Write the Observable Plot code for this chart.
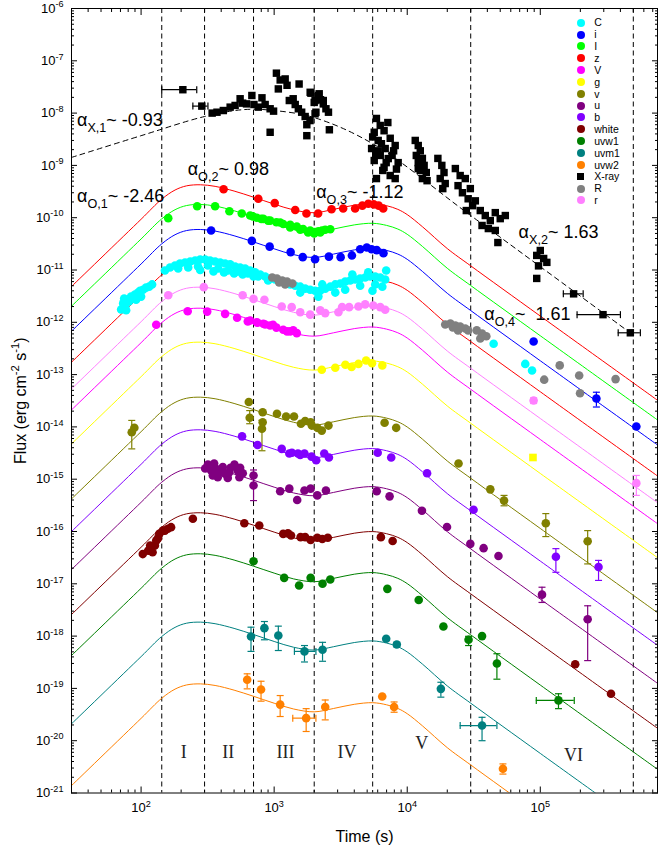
<!DOCTYPE html>
<html><head><meta charset="utf-8">
<script src="https://cdn.jsdelivr.net/npm/d3@7"></script>
<script src="https://cdn.jsdelivr.net/npm/@observablehq/plot@0.6"></script>
<style>
body{margin:0;background:#fff;font-family:"Liberation Sans",Arial,sans-serif;}
#wrap{position:relative;width:658px;height:850px;}
#legend{position:absolute;left:576.7px;top:16.8px;font-size:10.5px;color:#000;line-height:1;}
.row{height:11.85px;display:flex;align-items:center;}
.sym{width:8px;height:8px;border-radius:50%;margin-right:9.6px;flex:none;}
.sq{width:7px;height:7px;margin-left:0.5px;margin-right:10.1px;flex:none;}
</style></head><body><div id="wrap"></div>
<script>
// ---------------- data ----------------
const xMajor = [1e2, 1e3, 1e4, 1e5];
const yMajor = [1e-21,1e-20,1e-19,1e-18,1e-17,1e-16,1e-15,1e-14,1e-13,1e-12,1e-11,1e-10,1e-9,1e-8,1e-7,1e-6];
const boundaries = [143, 300, 700, 2000, 5500, 30000, 500000];
const romanLabels = ["I","II","III","IV","V","VI"];
const legendNames = ["C","i","I","z","V","g","v","u","b","white","uvw1","uvm1","uvw2","X-ray","R","r"];
const legendColors = ["#00ffff","#0000ff","#00ff00","#ff0000","#ff00ff","#ffff00","#808000","#800080","#8000ff","#800000","#008000","#008080","#ff8000","#000000","#808080","#ff80ff"];
const annotText = ["α_{X,1}~ -0.93","α_{O,1}~ -2.46","α_{O,2}~ 0.98","α_{O,3}~ -1.12","α_{X,2}~ 1.63","α_{O,4}~\u00a0 1.61"];

// model light-curve template (time, relative flux to first peak)
const modelTime  = [30, 100, 143, 180, 220, 280, 360, 500, 700, 1000, 1400, 2000, 2800, 4000, 5500, 7000, 8500, 10000, 13000, 20000, 30000, 100000, 760000];
const modelShape = [0.01135, 0.219, 0.531, 0.794, 0.955, 1, 0.933, 0.759, 0.579, 0.427, 0.331, 0.292, 0.339, 0.407, 0.437, 0.398, 0.339, 0.269, 0.158, 0.0603, 0.0282, 0.00309, 7.59e-5];
const modelBands  = ["z","I","i","C","r","V","g","v","b","u","white","uvw1","uvm1","uvw2"];
const modelColors = ["#ff0000","#00ff00","#0000ff","#ff0000","#ff80ff","#ff00ff","#ffff00","#808000","#8000ff","#800080","#800000","#008000","#008080","#ff8000"];
const modelPeak   = [4.26e-10, 1.79e-10, 5.95e-11, 1.52e-11, 4.69e-12, 1.86e-12, 4.17e-13, 3.70e-14, 8.8e-15, 1.65e-15, 2.28e-16, 3.75e-17, 1.85e-18, 1.22e-19];

const xrayModelTime = [30, 100, 300, 600, 1000, 2000, 5500, 30000, 470000];
const xrayModelFlux = [1.42e-9, 3.7e-9, 8.6e-9, 1.17e-8, 1.12e-8, 8.2e-9, 2.6e-9, 1.1e-10, 6.4e-13];

// points: [t, F, Flo, Fhi, tlo, thi]
const pts_X = [[206,2.8e-8,null,null,143,262],[286,1.36e-8,null,null,245,318],
 [342,1.0e-8],[372,1.04e-8],[415,1.12e-8],[467,1.3e-8],[509,1.4e-8],[555,1.88e-8],[580,1.55e-8],[620,1.5e-8],[680,2.17e-8],[705,1.46e-8],[760,1.3e-8],[810,1.96e-8],[856,1.46e-8],[933,1.21e-8],[990,1.09e-8],[933,4.3e-9],[1040,5.8e-8],[1075,2.9e-8],[1110,4.3e-8],[1210,4.5e-8],[1250,3.4e-8],[1300,1.74e-8],[1390,1.88e-8],[1440,1.46e-8],[1540,3.6e-8],[1520,1.21e-8],[1610,1.04e-8],[1710,8.6e-9],[1760,6.0e-9],[1760,3.7e-9],[1860,7.2e-9],[1890,2.4e-8],[2000,1.6e-8],[2060,1.04e-8],[2180,2.34e-8],[2230,1.8e-8],[2340,1.5e-8],[2450,1.21e-8],[2560,1.04e-8],[2600,4.8e-9],[1865,2.5e-8],[2030,1.74e-8],[2150,2.17e-8],[2340,1.74e-8],[2030,9.7e-9],
 [5870,7.9e-9],[6270,5.8e-9],[5650,4.3e-9],[6700,4.6e-9],[6050,3.0e-9],[7450,3.3e-9],[5400,2.1e-9],[6830,2.1e-9],[8120,2.4e-9],[6270,1.55e-9],[7700,1.55e-9],[5650,1.24e-9],[6950,1.13e-9],[8550,1.13e-9],[6550,8.0e-10],[7450,6.4e-10],[5870,5.6e-10],[8120,5.6e-10],[6700,9.2e-10],[6050,1.9e-9],[7150,6.6e-9],[5500,3.5e-9],[6400,2.6e-9],[7900,1.9e-9],[5800,1.6e-9],[7200,1.35e-9],[8300,8.5e-10],
 [11490,3.0e-9],[12100,2.4e-9],[12530,1.9e-9],[11700,1.55e-9],[13000,1.36e-9],[12100,1.13e-9],[13400,1.0e-9],[12530,8.0e-10],[13900,7.3e-10],[13000,5.6e-10],[14100,5.1e-10],[12100,8.7e-10],
 [17000,1.36e-9],[18200,1.0e-9],[18900,7.3e-10],[17700,5.6e-10],[19300,4.5e-10],[18500,3.6e-10],
 [23000,8.7e-10],[25000,6.4e-10],[24100,4.1e-10],[27300,5.6e-10],[26000,3.0e-10],[28700,2.3e-10],[29800,3.6e-10],[31000,1.7e-10],[32500,2.1e-10],[27800,1.37e-10],
 [35400,1.37e-10],[38600,1.1e-10],[42100,8.8e-11],[45900,1.25e-10],[50000,9.6e-11],[40700,6.2e-11],[45900,5.7e-11],[54600,1.1e-10],[36500,7.1e-11],[48000,3.35e-11],
 [94000,1.9e-11],[100000,2.36e-11],[106000,1.66e-11],[112000,1.4e-11],[97000,1.2e-11],[94000,6.9e-12],
 [178000,3.5e-12,null,null,149000,210000],[296000,1.4e-12,null,null,189000,400000],[475000,6.3e-13,null,null,385000,565000]];

const pts_C = [[70.8,1.76e-12],[73.3,2.3e-12],[75.9,2.0e-12],[78.5,2.7e-12],[81.2,2.5e-12],[84.1,3.1e-12],[87,2.85e-12],[90,3.4e-12],[95,3.7e-12],[98.3,4.0e-12],[103.5,4.2e-12],[109,4.6e-12],[115,4.8e-12],[121,5.3e-12],[74.6,2.85e-12],[91.7,2.7e-12],[77.2,1.7e-12],[100,3.1e-12],
 [151,9.8e-12],[165,1.12e-11],[180,1.22e-11],[196,1.33e-11],[214,1.39e-11],[234,1.45e-11],[255,1.52e-11],[278,1.59e-11],[303,1.59e-11],[330,1.52e-11],[360,1.45e-11],[393,1.39e-11],[428,1.33e-11],[467,1.28e-11],[509,1.17e-11],[555,1.12e-11],[605,1.07e-11],[660,9.8e-12],[719,9.0e-12],[785,8.2e-12],[856,7.5e-12],[933,6.9e-12],
 [190,1.07e-11],[226,1.12e-11],[268,1.17e-11],[318,1.22e-11],[380,1.07e-11],[451,9.8e-12],[536,9.4e-12],[636,8.6e-12],[758,7.5e-12],[901,6.3e-12],[278,1.0e-11],[350,9.4e-12],[420,9.0e-12],[500,8.6e-12],[580,8.2e-12],[700,7.5e-12],
 [1018,6.6e-12],[1110,6.0e-12],[1210,5.8e-12],[1320,5.3e-12],[1440,5.0e-12],[1570,4.8e-12],[1710,4.4e-12],[1865,4.2e-12],[2030,4.0e-12],[2220,4.0e-12],[2420,4.4e-12],[2640,4.8e-12],[2880,5.3e-12],[3140,5.5e-12],[3420,6.0e-12],[3730,6.3e-12],[4060,6.6e-12],[4430,6.9e-12],[4830,7.2e-12],[5270,7.5e-12],[5750,7.5e-12],[6270,7.2e-12],[6830,6.6e-12],
 [1570,3.7e-12],[2150,3.1e-12],[2300,5.3e-12],[2880,3.7e-12],[3420,4.2e-12],[3870,8.2e-12],[4430,5.0e-12],[5090,9.0e-12],[5750,5.3e-12],[6500,4.8e-12],[6950,9.8e-12],[5480,4.0e-12],
 [44600,3.9e-13],[77100,1.6e-13],[86700,1.2e-13]];

const pts_z = [[417,3.5e-10],[760,2.3e-10],[1010,1.9e-10],[1440,1.4e-10],[1750,1.2e-10],[2140,1.2e-10],[2700,1.45e-10],[3300,1.5e-10],[4060,1.5e-10],[4600,1.7e-10],[5100,1.85e-10],[5600,1.8e-10],[6100,1.7e-10],[6600,1.5e-10]];

const pts_I = [[160,9.8e-11],[264,1.66e-10],[360,1.66e-10],[461,1.33e-10],[571,1.2e-10],[660,1.1e-10],[692,1.06e-10],[740,1.0e-10],[800,9.5e-11],[830,9.5e-11],[900,8.8e-11],[933,8.8e-11],[1040,8.2e-11],[1110,8.1e-11],[1170,7.6e-11],[1320,7.3e-11],[1480,6.8e-11],[1650,6.1e-11],[1865,5.7e-11],[2030,5.3e-11],[2150,5.5e-11],[2290,5.7e-11],[2420,5.9e-11],[2640,6.0e-11],[1320,6.5e-11],[1570,5.9e-11],[1800,5.2e-11],[2000,5.0e-11],[2220,5.2e-11]];

const pts_i = [[336,5.7e-11],[680,3.6e-11],[925,2.8e-11],[1330,2.2e-11],[1640,1.76e-11],[2030,1.6e-11],[2580,1.8e-11],[3160,1.76e-11],[3840,1.9e-11],[4430,2.5e-11],[4970,2.7e-11],[5400,2.5e-11],[5900,2.4e-11],[6630,2.1e-11],[89100,4.3e-13],[264000,3.5e-14,2.4e-14,4.6e-14],[527000,1.02e-14]];

const pts_r = [[160,3.3e-12],[296,4.7e-12],[580,3.3e-12],[700,2.8e-12],[845,2.7e-12],[1140,2.0e-12],[1355,1.95e-12],[1570,1.56e-12],[1865,1.4e-12],[2220,1.7e-12],[2420,1.5e-12],[3040,1.56e-12],[3240,1.95e-12],[3660,1.95e-12],[4300,2.0e-12],[4830,2.2e-12],[5560,2.1e-12],[6270,1.95e-12],[6830,1.74e-12],[89100,3.2e-14,2.8e-14,3.6e-14],[527000,8.4e-16,4.9e-16,1.18e-15]];

const pts_V = [[130,9.0e-13],[224,1.63e-12],[314,1.6e-12],[428,1.45e-12],[527,1.22e-12],[634,1.04e-12],[660,1.08e-12],[740,1.0e-12],[750,9.8e-13],[830,9.4e-13],[856,9.1e-13],[933,8.7e-13],[980,9.0e-13],[1040,7.9e-13],[1170,7.2e-13],[1250,6.7e-13],[1320,6.7e-13],[1390,7.0e-13],[1480,6.2e-13]];

const pts_g = [[2280,1.24e-13],[2880,1.35e-13],[3430,1.54e-13],[3820,1.4e-13],[4300,1.6e-13],[4910,1.86e-13],[5440,1.65e-13],[6500,1.5e-13]];
const pts_gSquare = [[88100,2.6e-15]];

const pts_v = [[85.1,7.9e-15,3.8e-15,1.33e-14],[89,9.6e-15],[645,3.0e-14],[655,1.5e-14,1.15e-14,2.05e-14],[820,1.9e-14],[820,1.23e-14],[810,9.2e-15,3.5e-15,1.33e-14],[1050,1.78e-14],[1230,1.58e-14],[1410,1.58e-14],[1590,1.15e-14],[1710,1.3e-14],[1880,1.23e-14],[1920,1.06e-14],[2110,9.6e-15],[2280,8.5e-15],[2560,1.06e-14],[6760,1.2e-14],[8260,9.6e-15],[24300,2.0e-15],[42100,6.4e-16],[53400,3.9e-16,3.1e-16,4.9e-16],[110000,1.44e-16,8.0e-17,2.2e-16],[227000,6.5e-17,2.4e-17,1.04e-16]];

const pts_b = [[574,6.6e-15],[750,4.5e-15],[1140,3.8e-15],[1300,3.1e-15],[1360,3.2e-15],[1510,3.1e-15],[1570,2.9e-15],[1690,3.1e-15],[1910,2.7e-15],[2070,2.3e-15],[2380,3.1e-15],[2580,2.6e-15],[6000,3.2e-15],[7580,2.6e-15],[14100,1.3e-15],[31500,2.6e-16],[131000,3.3e-17,1.66e-17,4.7e-17],[274000,2.1e-17,1.16e-17,2.8e-17]];

const pts_u = [[318,1.9e-15],[336,1.47e-15],[366,1.58e-15],[377,1.09e-15],[411,1.7e-15],[428,1.27e-15],[460,1.36e-15],[503,1.9e-15],[532,1.47e-15],[548,1.09e-15],[581,1.3e-15],[346,1.18e-15],[448,1.06e-15],[387,1.36e-15],[303,1.6e-15],[354,2.0e-15],[470,1.65e-15],[555,1.65e-15],[700,1.18e-15,3.9e-16,1.5e-15],[700,7.6e-16],[1110,5.9e-16],[1300,6.6e-16],[1490,4.0e-16],[1690,6.1e-16],[1880,6.6e-16],[2110,4.9e-16],[2450,6.1e-16],[5900,5.9e-16],[7370,4.7e-16],[12900,2.5e-16],[19900,1.22e-16],[29800,5.8e-17],[37500,4.8e-17],[48500,3.4e-17],[103000,6.2e-18,4.4e-18,8.6e-18],[227000,2.1e-18,3.4e-19,3.8e-18]];

const pts_white = [[103,3.7e-17],[113,4.3e-17],[122,4.0e-17],[130,6.7e-17],[137,9.0e-17],[146,1.04e-16],[159,1.13e-16],[168,1.21e-16],[117,5.4e-17],[127,5.4e-17],[134,7.4e-17],[151,1.04e-16],[245,1.75e-16],[597,1.44e-16],[773,1.3e-16],[1170,9.0e-17],[1270,9.2e-17],[1340,8.4e-17],[1580,7.8e-17],[1710,7.8e-17],[1880,6.9e-17],[2110,7.6e-17],[2300,7.2e-17],[2530,7.6e-17],[6340,7.8e-17],[7770,6.6e-17],[183000,2.9e-19],[340000,7.9e-20]];

const pts_uvw1 = [[700,2.7e-17],[1190,1.3e-17],[1540,9.3e-18],[1880,1.3e-17],[2310,1.0e-17],[2640,1.21e-17],[7090,8.0e-18],[12200,4.9e-18],[18700,1.53e-18],[28900,8.5e-19,6.6e-19,9.9e-19],[36500,1.0e-18],[47200,3.0e-19,1.5e-19,4.6e-19],[137000,5.9e-20,4.1e-20,7.9e-20,93300,180000]];

const pts_uvm1 = [[670,9.8e-19,5.1e-19,1.48e-18],[845,1.42e-18,8.5e-19,1.9e-18],[1075,1.03e-18,5.3e-19,1.55e-18],[1690,5.1e-19,3.2e-19,6.6e-19,1420,2060],[2310,5.5e-19,3.3e-19,7.6e-19],[6950,8.9e-19],[8350,6.9e-19,6.2e-19,7.6e-19],[17900,9.8e-20,6.8e-20,1.31e-19],[36500,1.95e-20,1.0e-20,2.8e-20,25000,47200]];

const pts_uvw2 = [[627,1.46e-19,9.8e-20,1.9e-19],[797,9.5e-20,5.7e-20,1.37e-19],[1110,4.9e-20,2.9e-20,7.3e-20],[1740,2.7e-20,1.5e-20,4.1e-20,1380,2060],[2420,4.4e-20,2.5e-20,6.0e-20],[6490,7.0e-20],[7970,4.4e-20,3.5e-20,5.5e-20],[52400,2.9e-21,2.3e-21,3.6e-21]];

const pts_R = [[967,7.2e-12],[1050,6.9e-12],[1090,5.8e-12],[1150,6.3e-12],[1210,5.3e-12],[1250,6.0e-12],[1370,5.5e-12],[19300,9.1e-13],[21100,9.5e-13],[22000,8.0e-13],[23000,8.7e-13],[24100,7.0e-13],[25000,8.3e-13],[27300,7.6e-13],[28700,7.0e-13],[33300,7.0e-13],[35400,4.9e-13],[36500,6.1e-13],[39300,5.4e-13],[107000,8.0e-14],[140000,1.5e-13],[196000,9.6e-14],[199000,4.4e-14],[368000,8.2e-14]];

// ---------------- build tables ----------------
const colorOf = Object.fromEntries(legendNames.map((n, i) => [n, legendColors[i]]));
const bandPts = {C: pts_C, r: pts_r, V: pts_V, g: pts_g, v: pts_v, b: pts_b, u: pts_u, white: pts_white, uvw1: pts_uvw1, uvm1: pts_uvm1, uvw2: pts_uvw2, I: pts_I, i: pts_i, z: pts_z, R: pts_R};
const drawOrder = ["C","r","V","g","v","b","u","white","uvw1","uvm1","uvw2","I","i","z","R"];
const toRow = (band, color) => p => ({band, color, t: p[0], f: p[1], fLo: p[2] ?? null, fHi: p[3] ?? null, tLo: p[4] ?? null, tHi: p[5] ?? null});
const circleRows = drawOrder.flatMap(b => bandPts[b].map(toRow(b, colorOf[b])));
const squareRows = pts_gSquare.map(toRow("g", colorOf.g));
const xrayRows = pts_X.map(toRow("X-ray", "#000000"));
const allRows = [...circleRows, ...squareRows, ...xrayRows];
const yErr = allRows.filter(d => d.fLo != null);
const xErr = allRows.filter(d => d.tLo != null);

const modelRows = modelBands.flatMap((b, i) => modelTime.map((t, j) => ({key: b + i, color: modelColors[i], t, f: modelPeak[i] * modelShape[j]})));
const xrayModel = xrayModelTime.map((t, i) => ({t, f: xrayModelFlux[i]}));

const xMinor = [], yMinor = [];
for (let e = 1; e <= 5; e++) for (let k = 2; k <= 9; k++) { const v = k * 10 ** e; if (v > 30 && v < 7.6e5) xMinor.push(v); }
for (let e = -21; e <= -7; e++) for (let k = 2; k <= 9; k++) yMinor.push(k * 10 ** e);

const annots = annotText.map((label, i) => ({label, t: [33, 33, 224, 2070, 68700, 37900][i], f: [7.2e-9, 2.54e-10, 8.6e-10, 3.07e-10, 5.3e-11, 1.45e-12][i]}));
const romans = romanLabels.map((label, i) => ({label, t: [209, 452, 1217, 3530, 12850, 178000][i], f: [6.0e-21, 6.0e-21, 6.0e-21, 6.0e-21, 8.8e-21, 5.2e-21][i]}));

const capH = {draw(c, s) { const r = Math.sqrt(s / Math.PI); c.moveTo(-r, 0); c.lineTo(r, 0); }};
const capV = {draw(c, s) { const r = Math.sqrt(s / Math.PI); c.moveTo(0, -r); c.lineTo(0, r); }};
const pow10 = v => `10^{${Math.round(Math.log10(v))}}`;
const blank = () => "";

const svg = Plot.plot({
  width: 658, height: 850,
  marginLeft: 71, marginRight: 1, marginTop: 8, marginBottom: 57.5,
  x: {type: "log", domain: [30, 7.6e5]},
  y: {type: "log", domain: [1e-21, 1e-6]},
  color: {type: "identity"},
  style: {fontFamily: "'Liberation Sans', Arial, sans-serif", fontSize: "13px", color: "#000", background: "#fff", overflow: "visible"},
  marks: [
    Plot.ruleX(boundaries, {stroke: "#000", strokeWidth: 1, strokeDasharray: "5,3.5"}),
    Plot.line(modelRows, {x: "t", y: "f", z: "key", stroke: "color", strokeWidth: 1, curve: "catmull-rom", clip: true}),
    Plot.line(xrayModel, {x: "t", y: "f", stroke: "#000", strokeWidth: 1, strokeDasharray: "5,4", curve: "catmull-rom", clip: true}),
    Plot.ruleX(yErr, {x: "t", y1: "fLo", y2: "fHi", stroke: "color", strokeWidth: 1.2}),
    Plot.dot(yErr, {x: "t", y: "fLo", symbol: capH, r: 3.5, stroke: "color", fill: "none", strokeWidth: 1.2}),
    Plot.dot(yErr, {x: "t", y: "fHi", symbol: capH, r: 3.5, stroke: "color", fill: "none", strokeWidth: 1.2}),
    Plot.ruleY(xErr, {y: "f", x1: "tLo", x2: "tHi", stroke: "color", strokeWidth: 1.2}),
    Plot.dot(xErr, {x: "tLo", y: "f", symbol: capV, r: 3.5, stroke: "color", fill: "none", strokeWidth: 1.2}),
    Plot.dot(xErr, {x: "tHi", y: "f", symbol: capV, r: 3.5, stroke: "color", fill: "none", strokeWidth: 1.2}),
    Plot.dot(circleRows, {x: "t", y: "f", fill: "color", r: 4.3}),
    Plot.dot(squareRows, {x: "t", y: "f", fill: "color", r: 4.3, symbol: "square"}),
    Plot.dot(xrayRows, {x: "t", y: "f", fill: "#000", r: 4.2, symbol: "square"}),
    Plot.frame({stroke: "#000", strokeWidth: 1}),
    Plot.axisX({anchor: "bottom", ticks: xMajor, tickSize: -6, tickPadding: 16, tickFormat: pow10, label: null, fontSize: 13}),
    Plot.axisX({anchor: "bottom", ticks: xMinor, tickSize: -3, tickFormat: blank, label: null}),
    Plot.axisX({anchor: "top", ticks: xMajor, tickSize: -6, tickFormat: blank, label: null}),
    Plot.axisX({anchor: "top", ticks: xMinor, tickSize: -3, tickFormat: blank, label: null}),
    Plot.axisY({anchor: "left", ticks: yMajor, tickSize: -6, tickPadding: 14, tickFormat: pow10, label: null, fontSize: 13}),
    Plot.axisY({anchor: "left", ticks: yMinor, tickSize: -3, tickFormat: blank, label: null}),
    Plot.axisY({anchor: "right", ticks: yMajor, tickSize: -6, tickFormat: blank, label: null}),
    Plot.axisY({anchor: "right", ticks: yMinor, tickSize: -3, tickFormat: blank, label: null}),
    Plot.text(annots, {x: "t", y: "f", text: "label", textAnchor: "start", lineAnchor: "middle", fontSize: 18, fill: "#000"}),
    Plot.text(romans, {x: "t", y: "f", text: "label", textAnchor: "middle", lineAnchor: "middle", fontSize: 18, fill: "#222", fontFamily: "'Liberation Serif', 'Times New Roman', serif"}),
    Plot.text(["Time (s)"], {text: d => d, frameAnchor: "bottom", dy: 44, lineAnchor: "middle", fontSize: 16}),
    Plot.text(["Flux (erg cm^{-2} s^{-1})"], {text: d => d, frameAnchor: "left", dx: -51, rotate: -90, textAnchor: "middle", lineAnchor: "middle", fontSize: 16})
  ]
});

const wrap = document.getElementById("wrap");
wrap.appendChild(svg);

// rich text: ^{...} superscript, _{...} subscript
const NS = "http://www.w3.org/2000/svg";
svg.querySelectorAll("text").forEach(el => {
  const s = el.textContent;
  if (!/[\^_]\{/.test(s)) return;
  const fs = parseFloat(getComputedStyle(el).fontSize) || 13;
  el.textContent = "";
  const re = /([\^_])\{([^}]*)\}|([^\^_]+)/g;
  let m, cur = 0;
  while ((m = re.exec(s))) {
    const t = document.createElementNS(NS, "tspan");
    let target = 0;
    if (m[1]) {
      target = m[1] === "^" ? -0.42 * fs : 0.33 * fs;
      t.setAttribute("font-size", (0.7 * fs).toFixed(1));
      t.textContent = m[2];
    } else t.textContent = m[3];
    if (target !== cur) { t.setAttribute("dy", (target - cur).toFixed(2)); cur = target; }
    el.appendChild(t);
  }
});

// legend
const leg = document.createElement("div");
leg.id = "legend";
legendNames.forEach((n, i) => {
  const row = document.createElement("div"); row.className = "row";
  const sym = document.createElement("span");
  sym.className = n === "X-ray" ? "sq" : "sym";
  sym.style.background = legendColors[i];
  const lab = document.createElement("span"); lab.textContent = n;
  row.appendChild(sym); row.appendChild(lab); leg.appendChild(row);
});
wrap.appendChild(leg);
</script></body></html>
